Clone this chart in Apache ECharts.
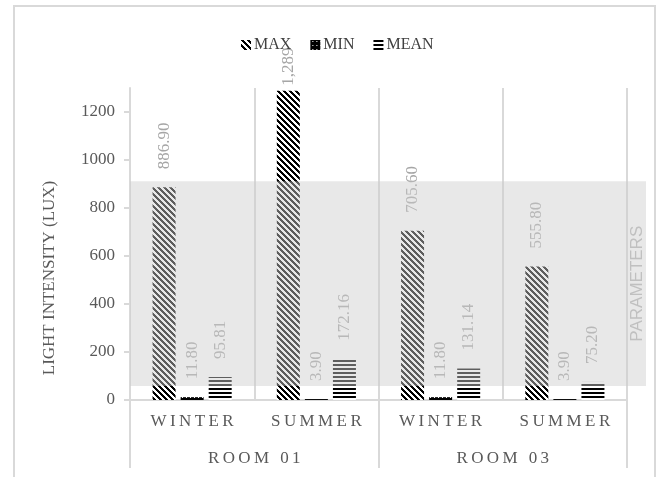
<!DOCTYPE html>
<html>
<head>
<meta charset="utf-8">
<script src="https://cdn.jsdelivr.net/npm/echarts@6/dist/echarts.min.js"></script>
<style>
  html, body { margin: 0; padding: 0; background: #fff; }
  #chart { width: 659px; height: 477px; }
</style>
</head>
<body>
<div id="chart"></div>
<script>
// Seasons within each room, and the rooms themselves
const seasons = ['WINTER', 'SUMMER', 'WINTER', 'SUMMER'];
const rooms = ['ROOM 01', 'ROOM 03'];

// Light intensity (lux)
const maxValues = [886.90, 1289, 705.60, 555.80];
const minValues = [11.80, 3.90, 11.80, 3.90];
const meanValues = [95.81, 172.16, 131.14, 75.20];

// Recommended range shaded across the plot
const paramRange = [58, 911];

const yTicks = [0, 200, 400, 600, 800, 1000, 1200];

// Spread letters apart with thin spaces
const spaced = s => s.split('').join('\u2009');

function pattern(w, h, isInk) {
  const c = document.createElement('canvas');
  c.width = w; c.height = h;
  const ctx = c.getContext('2d');
  const img = ctx.createImageData(w, h);
  for (let y = 0; y < h; y++) {
    for (let x = 0; x < w; x++) {
      const i = (y * w + x) * 4;
      const v = isInk(x, y) ? 0 : 255;
      img.data[i] = v; img.data[i + 1] = v; img.data[i + 2] = v; img.data[i + 3] = 255;
    }
  }
  ctx.putImageData(img, 0, 0);
  return { image: c, repeat: 'repeat' };
}

const diagPattern = pattern(6, 6, (x, y) => ((x - y + 60) % 6) < 3);
const dotPattern = pattern(4, 4, (x, y) => !(x === 2 && y === 1));
const hLinePattern = pattern(4, 4, (x, y) => y < 2);

const fmt = v => v >= 1000 ? Math.round(v).toLocaleString('en-US') : v.toFixed(2);

const labelBase = {
  show: true,
  position: 'top',
  distance: 18,
  rotate: 90,
  align: 'left',
  verticalAlign: 'middle',
  color: '#a6a6a6',
  fontSize: 17,
  fontFamily: 'Liberation Serif',
  formatter: p => fmt(p.value)
};

const gridLine = '#d9d9d9';

function barSeries(name, values, color) {
  return {
    name,
    type: 'bar',
    xAxisIndex: 0,
    yAxisIndex: 0,
    barWidth: 23,
    barGap: '22%',
    z: 3,
    itemStyle: { color },
    label: labelBase,
    data: values.map(v => v >= 1000
      ? { value: v, label: { distance: 5 } }
      : v)
  };
}

const chart = echarts.init(document.getElementById('chart'), null, { renderer: 'canvas' });

chart.setOption({
  animation: false,
  backgroundColor: '#fff',
  textStyle: { fontFamily: 'Liberation Serif' },
  legend: {
    data: ['MAX', 'MIN', 'MEAN'],
    top: 32,
    left: 236,
    icon: 'rect',
    itemWidth: 10,
    itemHeight: 10,
    itemGap: 19,
    textStyle: { fontSize: 16, color: '#404040', fontFamily: 'Liberation Serif', padding: [0, 0, 0, -2] }
  },
  grid: [
    { left: 130, right: 32, top: 88, bottom: 77 },
    { left: 130, right: 13, top: 88, bottom: 77 }
  ],
  xAxis: [
    {
      type: 'category',
      gridIndex: 0,
      data: seasons.map(spaced),
      boundaryGap: true,
      axisLine: { show: true, lineStyle: { color: gridLine, width: 2 } },
      axisTick: { show: false },
      axisLabel: { interval: 0, margin: 13, fontSize: 17, color: '#595959' },
      splitLine: { show: true, interval: 0, lineStyle: { color: gridLine, width: 2 } }
    },
    {
      type: 'category',
      gridIndex: 0,
      position: 'bottom',
      offset: 0,
      data: rooms.map(spaced),
      boundaryGap: true,
      axisLine: { show: false },
      axisTick: { show: true, interval: 0, length: 68, lineStyle: { color: gridLine, width: 2 } },
      axisLabel: { interval: 0, margin: 50, fontSize: 17, color: '#595959' },
      splitLine: { show: false }
    },
    {
      type: 'category',
      gridIndex: 1,
      data: ['PARAMETERS'],
      show: false
    }
  ],
  yAxis: [
    {
      type: 'value',
      gridIndex: 0,
      min: 0,
      max: 1300,
      axisLine: { show: true, lineStyle: { color: gridLine, width: 2 } },
      axisTick: { show: true, length: 6, customValues: yTicks, lineStyle: { color: gridLine, width: 2 } },
      axisLabel: { customValues: yTicks, margin: 15, fontSize: 17, color: '#595959', formatter: v => String(v) },
      splitLine: { show: false }
    },
    {
      type: 'value',
      gridIndex: 1,
      min: 0,
      max: 1300,
      show: false,
      splitLine: { show: false }
    }
  ],
  graphic: [
    {
      type: 'rect',
      shape: { x: 14, y: 6, width: 641, height: 520 },
      style: { fill: null, stroke: gridLine, lineWidth: 2 },
      silent: true,
      z: -10
    },
    {
      type: 'text',
      x: 50,
      y: 278,
      rotation: Math.PI / 2,
      style: {
        text: 'LIGHT INTENSITY (LUX)',
        align: 'center',
        verticalAlign: 'middle',
        fontSize: 17,
        fontFamily: 'Liberation Serif',
        fill: '#595959'
      }
    }
  ],
  series: [
    barSeries('MAX', maxValues, diagPattern),
    barSeries('MIN', minValues, dotPattern),
    barSeries('MEAN', meanValues, hLinePattern),
    {
      name: 'paramBase',
      type: 'bar',
      xAxisIndex: 2,
      yAxisIndex: 1,
      stack: 'param',
      barWidth: '100%',
      silent: true,
      itemStyle: { color: 'rgba(0,0,0,0)' },
      data: [paramRange[0]]
    },
    {
      name: 'PARAMETERS',
      type: 'bar',
      xAxisIndex: 2,
      yAxisIndex: 1,
      stack: 'param',
      barWidth: '100%',
      silent: true,
      z: 6,
      itemStyle: { color: 'rgba(205,205,205,0.46)' },
      label: {
        show: true,
        formatter: 'PARAMETERS',
        position: ['98.4%', '50%'],
        rotate: 90,
        align: 'center',
        verticalAlign: 'middle',
        fontSize: 17,
        fontFamily: 'Liberation Sans',
        color: '#c0c0c0'
      },
      data: [paramRange[1] - paramRange[0]]
    }
  ]
});
</script>
</body>
</html>
